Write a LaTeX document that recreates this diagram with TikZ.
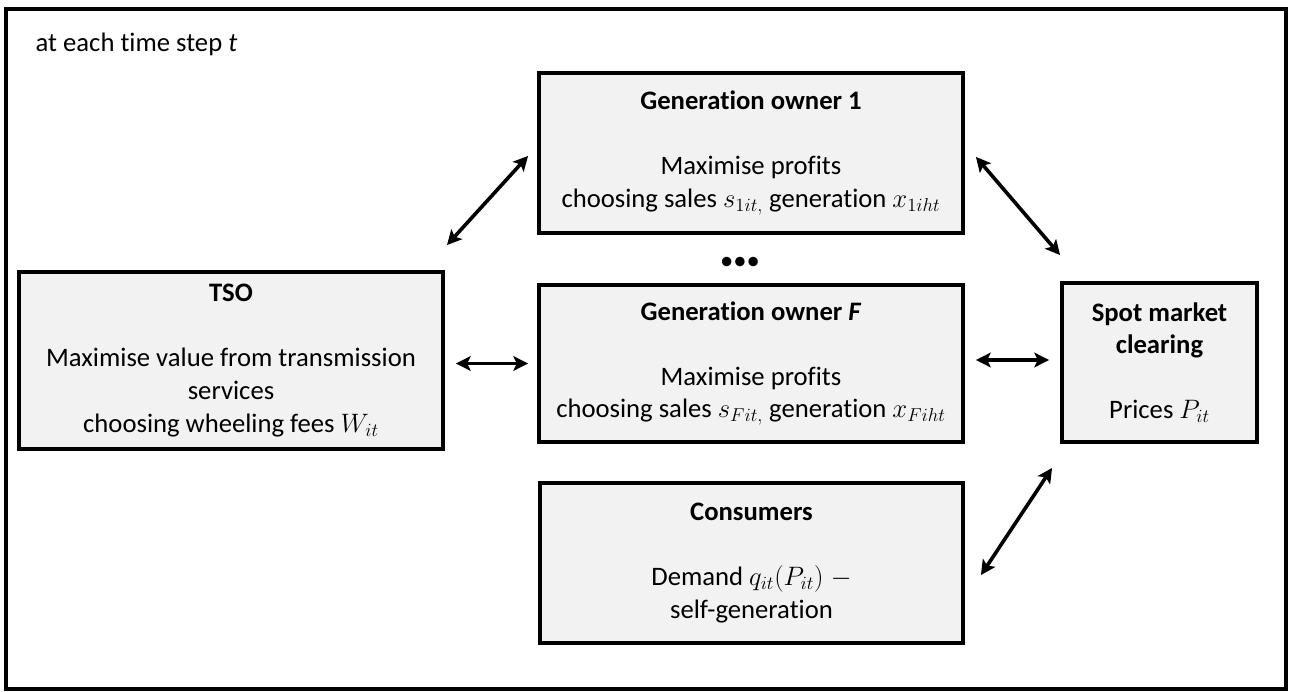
\RequirePackage{fix-cm}
\documentclass[tikz,border=0pt]{standalone}
\usepackage{fontspec}
\setmainfont{Carlito}[Ligatures=NoCommon]
\usetikzlibrary{arrows.meta}
\definecolor{boxfill}{HTML}{F2F2F2}
\begin{document}
\begin{tikzpicture}[x=0.75pt,y=-0.75pt,
  txt/.style={font=\fontsize{20}{24.4}\selectfont},
  box/.style={txt, draw=black, line width=2.9pt, fill=boxfill, align=center, inner sep=0pt},
  tipS/.tip={Stealth[length=11pt,width=11pt,inset=2.5pt]},
  conn/.style={line width=2.7pt, tipS-tipS}]
\useasboundingbox (0,0) rectangle (1290,692);
\draw[line width=3.4pt] (6,9) rectangle (1286,689);
\node[txt, anchor=base west] (title) at (31,52) {at each time step \textit{t}};

\node[box, minimum width=318pt, minimum height=132.75pt] (tso) at (231,360.5)
  {\textbf{TSO}\\[\baselineskip]Maximise value from transmission\\services\\choosing wheeling fees $W_{it}$};
\node[box, minimum width=318pt, minimum height=120pt] (gen1) at (751,153)
  {\textbf{Generation owner 1}\\[\baselineskip]Maximise profits\\choosing sales $s_{1it,}$ generation $x_{1iht}$};
\node[box, minimum width=318pt, minimum height=117.75pt] (genF) at (751,363.5)
  {\textbf{Generation owner \textit{F}}\\[\baselineskip]Maximise profits\\choosing sales $s_{Fit,}$ generation $x_{Fiht}$};
\node[box, minimum width=317.25pt, minimum height=120pt] (cons) at (751.5,563)
  {\textbf{Consumers}\\[\baselineskip]Demand $q_{it}(P_{it})\;-$\\self-generation};
\node[box, minimum width=146.25pt, minimum height=119.25pt] (spot) at (1159.5,362.5)
  {\textbf{Spot market}\\\textbf{clearing}\\[\baselineskip]Prices $P_{it}$};
\node[txt] (dots) at (740,263) {\textbullet\textbullet\textbullet};

\draw[conn] ([shift={(2,-25)}]tso.north east) -- ([shift={(-9,-79)}]gen1.south west);
\draw[conn] ([shift={(11,0)}]genF.west -| tso.east) -- ([shift={(-9,0)}]genF.west);
\draw[conn] ([shift={(11,-3.5)}]genF.east) -- ([shift={(-11,-2.5)}]spot.west);
\draw[conn] ([shift={(11,-78)}]gen1.south east) -- ([shift={(0,-26)}]spot.north west);
\draw[conn] ([shift={(16,94)}]cons.north east) -- ([shift={(-8,24)}]spot.south west);
\end{tikzpicture}
\end{document}
